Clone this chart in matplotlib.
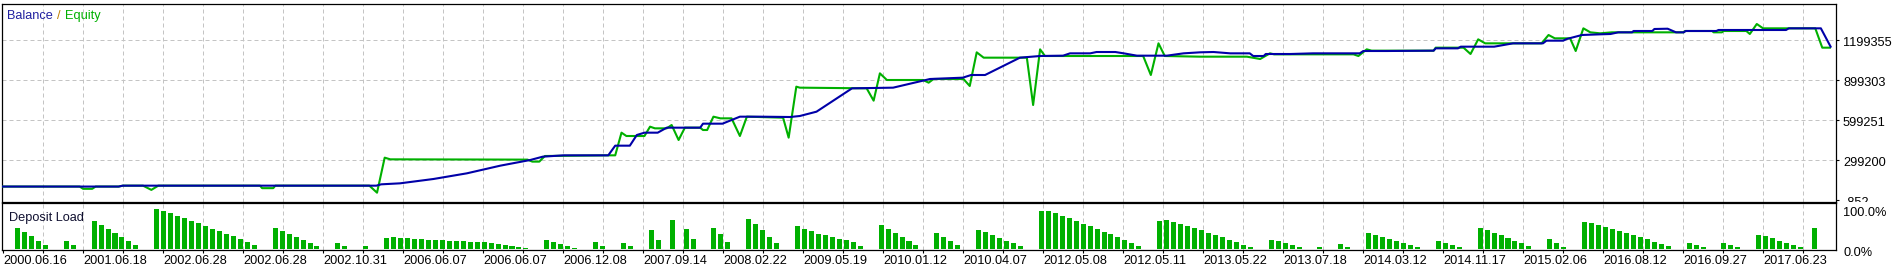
import numpy as np
import matplotlib
matplotlib.use("Agg")
import matplotlib.pyplot as plt
from matplotlib.transforms import blended_transform_factory, offset_copy, Bbox, TransformedBbox

plt.rcParams['font.family'] = ['Liberation Sans', 'DejaVu Sans']

# ---------------- data ----------------
date_labels = ["2000.06.16", "2001.06.18", "2002.06.28", "2002.06.28", "2002.10.31",
               "2006.06.07", "2006.06.07", "2006.12.08", "2007.09.14", "2008.02.22",
               "2009.05.19", "2010.01.12", "2010.04.07", "2012.05.08", "2012.05.11",
               "2013.05.22", "2013.07.18", "2014.03.12", "2014.11.17", "2015.02.06",
               "2016.08.12", "2016.09.27", "2017.06.23"]
value_ticks = [-852, 299200, 599251, 899303, 1199355]
load_ticks = [0.0, 100.0]

balance_trade = [0, 16.6, 17.2, 53.6, 54.3, 57.0, 61.8, 66.6, 71.4, 75.7, 77.5, 80.5, 86.9,
                 87.9, 90.0, 91.0, 92.1, 94.0, 95.3, 100.1, 100.5, 103.3, 105.8, 108.7, 113.0,
                 114.4, 116.8, 121.9, 127.8, 133.1, 137.8, 139.0, 141.0, 146.0, 148.9, 152.2,
                 153.2, 156.1, 157.0, 159.7, 160.9, 162.8, 167.1, 169.5, 171.9, 173.8, 176.2,
                 179.0, 179.5, 181.0, 181.3, 184.8, 188.1, 194.8, 195.3, 198.7, 205.4, 205.7,
                 208.9, 209.3, 214.1, 216.8, 221.1, 221.6, 224.0, 224.5, 226.7, 229.3, 230.8,
                 231.9, 233.9, 234.1, 236.8, 237.1, 239.0, 240.2, 241.3, 241.6, 246.0, 246.3,
                 256.0, 256.4, 261.0, 262.4]
balance_value = [100000, 100000, 106700, 106700, 116700, 124200, 156700, 199200, 256700, 299200,
                 324200, 334200, 334200, 406700, 406700, 486700, 504200, 504200, 541700, 541700,
                 571700, 571700, 624200, 624200, 621700, 629200, 661700, 836800, 841800, 906800,
                 916800, 936800, 936800, 1066800, 1079300, 1081800, 1099300, 1099300, 1109300,
                 1109300, 1099300, 1081800, 1081800, 1099300, 1107000, 1109300, 1099300, 1099300,
                 1079300, 1079300, 1094300, 1094300, 1099300, 1099300, 1116800, 1116800, 1119300,
                 1136800, 1136800, 1149300, 1149300, 1174300, 1174300, 1194300, 1194300, 1206800,
                 1236900, 1241900, 1244400, 1256900, 1256900, 1266900, 1266900, 1281900, 1284000,
                 1256900, 1256900, 1266900, 1266900, 1274400, 1274400, 1286900, 1286900, 1149300]

equity_trade = [0, 11.0, 11.5, 12.8, 13.3, 16.6, 17.2, 20.1, 21.3, 22.3, 36.9, 37.2, 38.8, 39.1,
                52.6, 53.7, 54.8, 55.6, 75.3, 76.0, 77.0, 77.8, 86.9, 87.9, 88.8, 89.5, 92.1,
                92.9, 93.6, 95.3, 96.0, 97.0, 97.9, 100.1, 100.5, 101.1, 102.0, 103.0, 104.6,
                105.8, 106.8, 112.0, 112.8, 113.9, 114.4, 124.0, 125.0, 125.9, 126.9, 132.1,
                132.9, 133.6, 137.9, 138.8, 139.8, 140.8, 147.0, 147.9, 148.9, 149.6, 163.7,
                164.8, 165.9, 166.8, 171.9, 178.6, 180.5, 181.9, 182.5, 193.9, 194.6, 195.8,
                196.5, 205.4, 205.7, 209.7, 210.7, 211.8, 212.8, 220.9, 221.9, 222.8, 225.0,
                225.8, 226.9, 227.9, 229.3, 231.0, 241.3, 241.5, 245.4, 245.6, 246.8, 247.0,
                250.3, 250.8, 251.8, 252.7, 260.2, 261.2, 262.3]
equity_value = [100000, 100000, 83000, 83000, 100000, 100000, 106700, 106700, 75000, 106700,
                106700, 88000, 88000, 106700, 106700, 54000, 316700, 304200, 302000, 287000,
                287000, 329200, 334200, 334200, 504200, 479200, 479200, 549200, 536700, 536700,
                561700, 449200, 541700, 541700, 524200, 524200, 624200, 611700, 611700, 479200,
                624200, 616700, 466700, 849300, 841800, 836800, 744300, 949300, 899300, 899300,
                879300, 906800, 906800, 854300, 1106800, 1066800, 1066800, 711700, 1129300,
                1079300, 1079300, 936800, 1174300, 1079300, 1074300, 1074300, 1056800, 1099300,
                1091800, 1091800, 1079300, 1129300, 1119300, 1119300, 1141800, 1141800, 1094300,
                1204400, 1174300, 1174300, 1236900, 1211900, 1211900, 1116800, 1286900, 1256900,
                1249400, 1256900, 1256900, 1266900, 1266900, 1256900, 1256900, 1266900, 1266900,
                1244400, 1319400, 1286900, 1286900, 1141800, 1141800]

deposit_load = [52.5, 42.5, 33, 20, 10, 0, 0, 20, 10, 0, 0, 70, 61, 50, 40, 30, 20, 10, 0, 0,
                100, 95, 90, 83, 78, 70, 65, 57.5, 50, 45, 37.5, 33, 25, 17.5, 10, 0, 0,
                52.5, 45, 37.5, 30, 22.5, 15, 7.5, 0, 0, 15, 7.5, 0, 0, 7.5, 0, 0,
                27.5, 30, 27.5, 27.5, 25, 25, 22.5, 22.5, 22.5, 20, 20, 20, 17.5, 17.5, 17.5,
                15, 12.5, 10, 7.5, 5, 2.5, 0, 0, 22.5, 17.5, 12.5, 7.5, 2.5, 0, 0, 17.5, 7.5,
                0, 0, 15, 7.5, 0, 0, 47.5, 22.5, 0, 72.5, 0, 50, 25, 0, 0, 52.5, 37.5, 17.5,
                0, 0, 75, 62.5, 47.5, 30, 15, 0, 0, 57.5, 50, 45, 37.5, 35, 30, 25, 22.5, 17.5,
                7.5, 0, 0, 60, 50, 40, 30, 20, 10, 0, 0, 40, 30, 20, 10, 0, 0,
                47.5, 42.5, 35, 27.5, 20, 15, 7.5, 0, 0, 95, 95, 90, 82.5, 77.5, 70, 62.5, 57.5,
                50, 42.5, 37.5, 30, 22.5, 15, 7.5, 0, 0, 70, 72.5, 67.5, 62.5, 57.5, 52.5, 47.5,
                40, 35, 30, 22.5, 17.5, 10, 5, 0, 0, 22.5, 20, 15, 10, 5, 0, 0, 5, 0, 0, 12.5, 5,
                0, 0, 40, 35, 30, 25, 20, 15, 10, 5, 0, 0, 20, 15, 10, 5, 0, 0,
                52.5, 47.5, 40, 35, 27.5, 20, 15, 7.5, 0, 0, 25, 15, 5, 0, 0,
                67.5, 65, 60, 55, 50, 45, 40, 35, 30, 25, 17.5, 12.5, 7.5, 0, 0, 15, 10, 5, 0, 0,
                15, 10, 5, 0, 0, 35, 32.5, 27.5, 20, 15, 10, 5, 0, 52.5]

# ---------------- styling ----------------
W, H = 1896, 269
PX = 6.965                 # pixels per trade
BLUE = '#0000a8'
GREEN = '#00b000'
GRID = '#c4c4c4'
FS = 9.2

fig = plt.figure(figsize=(W / 100, H / 100), dpi=100)
fig.patch.set_facecolor('white')

left_px, right_px = 2, 1836
ax = fig.add_axes([left_px / W, 1 - 201.5 / H, (right_px - left_px) / W, (201.5 - 4) / H])
axl = fig.add_axes([left_px / W, 1 - 250 / H, (right_px - left_px) / W, (250 - 203) / H])

xlim = ((left_px - 3) / PX, (right_px - 3) / PX)
major = np.arange(len(date_labels)) * 80 / PX
minor = np.arange(1, 46) * 40 / PX

for a in (ax, axl):
    a.set_xlim(*xlim)
    for s in a.spines.values():
        s.set_linewidth(0.9)
        s.set_color('black')
    for g in minor:
        a.axvline(g, color=GRID, lw=0.72, ls=(0, (4, 3)), zorder=0)

# main panel
step = 300052 / 40.0
ax.set_ylim(-852 - 1.5 * step, -852 + 196 * step)
for v in value_ticks[1:]:
    ax.axhline(v, color=GRID, lw=0.72, ls=(0, (4, 3)), zorder=0)
ax.plot(equity_trade, equity_value, color=GREEN, lw=1.5, zorder=3)
ax.plot(balance_trade, balance_value, color=BLUE, lw=1.5, zorder=4)
ax.set_xticks([])
ax.yaxis.tick_right()
ax.set_yticks(value_ticks)
ax.set_yticklabels([])
ax.tick_params(axis='y', length=2.5, width=0.8, direction='out')

trans = offset_copy(blended_transform_factory(ax.transAxes, ax.transData), fig=fig, x=7, y=3, units='dots')
clip = TransformedBbox(Bbox.from_extents(right_px / W, (H - 201.5) / H, 1, 1), fig.transFigure)
for v in value_ticks:
    t = ax.text(1, v, f"{v}", transform=trans, ha='left', va='top', fontsize=FS, color='black', clip_on=False)
    t.set_clip_box(clip)
    t.set_clip_on(True)

# legend text
r = fig.canvas.get_renderer()
ty = 1 - 19.3 / H
t1 = fig.text(7 / W, ty, "Balance", color='#2020a0', fontsize=FS, va='baseline')
x1 = t1.get_window_extent(r).x1
t2 = fig.text((x1 + 4) / W, ty, "/", color='#c08000', fontsize=FS, va='baseline')
x2 = t2.get_window_extent(r).x1
fig.text((x2 + 5) / W, ty, "Equity", color=GREEN, fontsize=FS, va='baseline')

# deposit load panel
axl.set_ylim(-2.5, 115)
axl.bar(np.arange(len(deposit_load)) + 2.08, deposit_load, width=0.72, color=GREEN, zorder=3)
axl.set_xticks(major)
axl.set_xticks(minor, minor=True)
axl.set_xticklabels(date_labels, ha='left', fontsize=FS)
axl.tick_params(axis='x', which='both', length=2.5, width=0.8, direction='out', pad=1.3)
axl.set_yticks([])
axl.text(7 / (right_px - left_px), 1 - 17.5 / 47, "Deposit Load", transform=axl.transAxes,
         ha='left', va='baseline', fontsize=FS, color='#101030')
transl = offset_copy(blended_transform_factory(axl.transAxes, axl.transData), fig=fig, x=7, y=2.5, units='dots')
for v in load_ticks:
    axl.text(1, v, f"{v:.1f}%", transform=transl, ha='left', va='top', fontsize=FS, color='black', clip_on=False)

fig.savefig("out.png", dpi=100, facecolor='white')
